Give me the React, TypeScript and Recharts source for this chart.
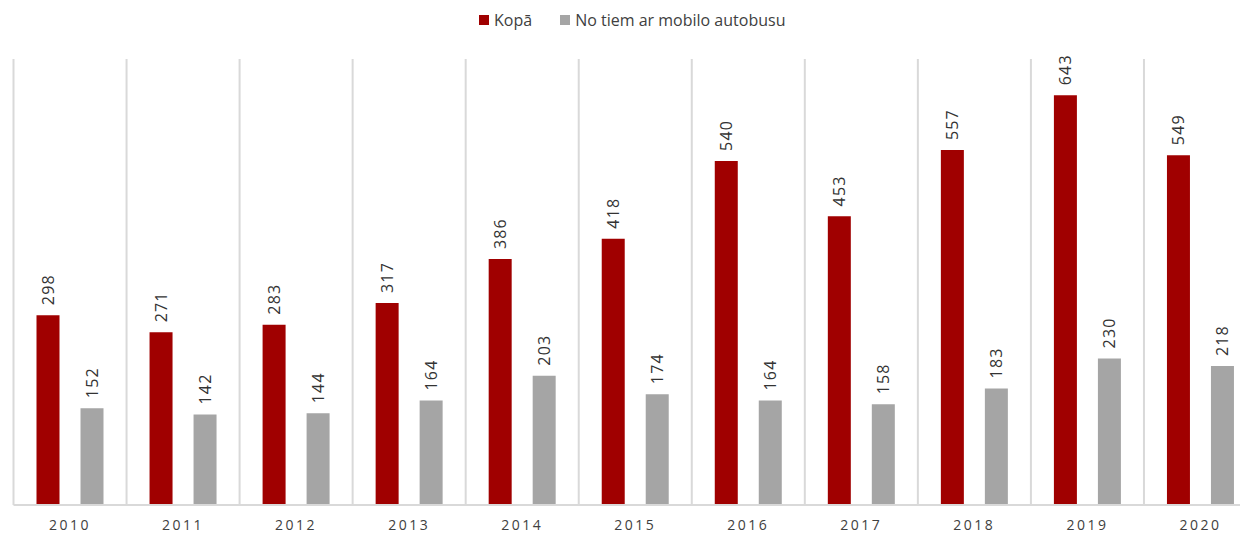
import { BarChart, Bar, XAxis, YAxis, CartesianGrid, Legend, LabelList } from 'recharts'

const years = ['2010', '2011', '2012', '2013', '2014', '2015', '2016', '2017', '2018', '2019', '2020']
const total = [298, 271, 283, 317, 386, 418, 540, 453, 557, 643, 549]
const mobile = [152, 142, 144, 164, 203, 174, 164, 158, 183, 230, 218]

const seriesNames = ['Kopā', 'No tiem ar mobilo autobusu']
const RED = '#a00000'
const GRAY = '#a5a5a5'
const FONT = '"Open Sans", "Noto Sans", sans-serif'

const data = years.map((y, i) => ({ year: y, total: total[i], mobile: mobile[i] }))

const VerticalLabel = (props: any) => {
  const { x, y, width, value } = props
  const cx = x + width / 2
  const cy = y - 10
  return (
    <text
      x={cx}
      y={cy}
      transform={`rotate(-90, ${cx}, ${cy})`}
      textAnchor="start"
      dominantBaseline="central"
      fill="#333"
      fontSize={16}
      letterSpacing={1.2}
      fontFamily={FONT}
    >
      {value}
    </text>
  )
}

const YearTick = (props: any) => {
  const { x, y, payload } = props
  return (
    <text
      x={x}
      y={y + 11}
      textAnchor="middle"
      dominantBaseline="central"
      fill="#404040"
      fontSize={14}
      letterSpacing={2.5}
      fontFamily={FONT}
    >
      {payload.value}
    </text>
  )
}

const LegendContent = () => (
  <div
    style={{
      display: 'flex',
      justifyContent: 'center',
      alignItems: 'center',
      gap: 28,
      fontFamily: FONT,
      fontSize: 16,
      color: '#404040',
      height: 22,
      paddingRight: 6,
    }}
  >
    {[RED, GRAY].map((c, i) => (
      <span key={i} style={{ display: 'flex', alignItems: 'center' }}>
        <span style={{ width: 10, height: 10, background: c, marginRight: 5 }} />
        {seriesNames[i]}
      </span>
    ))}
  </div>
)

export default function App() {
  return (
    <div style={{ margin: -8, width: 1248, height: 538, overflow: 'hidden', background: '#fff' }}>
      <BarChart
        width={1257}
        height={538}
        data={data}
        margin={{ top: 37, right: 0, bottom: 0, left: 13.5 }}
        barSize={23}
        barGap={21}
      >
        <CartesianGrid
          horizontal={false}
          stroke="#d9d9d9"
          strokeWidth={2}
          verticalCoordinatesGenerator={({ offset }: any) =>
            Array.from({ length: years.length }, (_, i) => offset.left + (i * offset.width) / years.length)
          }
        />
        <XAxis
          dataKey="year"
          height={33}
          axisLine={{ stroke: '#d9d9d9', strokeWidth: 2 }}
          tickLine={false}
          tick={<YearTick />}
          interval={0}
        />
        <YAxis hide domain={[0, 700]} />
        <Legend verticalAlign="top" wrapperStyle={{ top: 9 }} content={<LegendContent />} />
        <Bar dataKey="total" name={seriesNames[0]} fill={RED} isAnimationActive={false}>
          <LabelList dataKey="total" content={<VerticalLabel />} />
        </Bar>
        <Bar dataKey="mobile" name={seriesNames[1]} fill={GRAY} isAnimationActive={false}>
          <LabelList dataKey="mobile" content={<VerticalLabel />} />
        </Bar>
      </BarChart>
    </div>
  )
}
